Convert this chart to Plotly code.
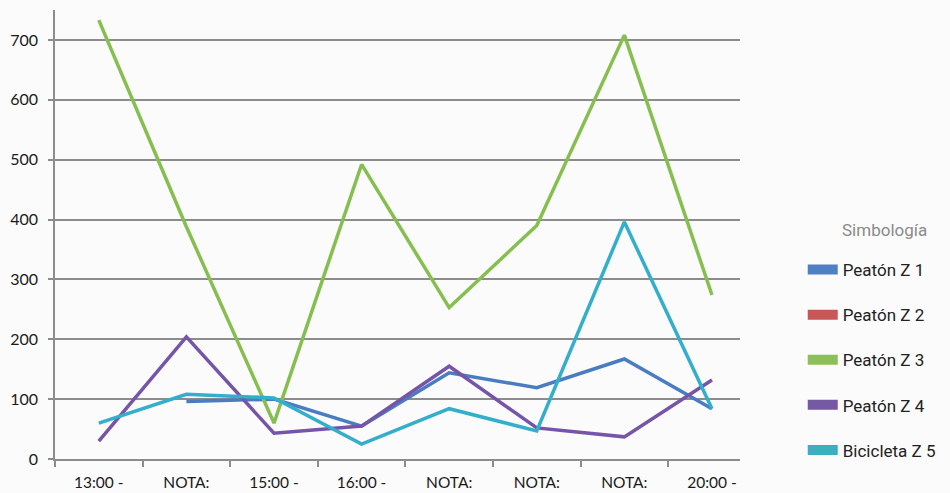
import plotly.graph_objects as go

categories = ["13:00 -", "NOTA:", "15:00 -", "16:00 -", "NOTA:", "NOTA:", "NOTA:", "20:00 -"]
peaton_z1 = [None, 96, 100, 55, 144, 119, 167, 84]
peaton_z2 = [None, None, None, None, None, None, None, None]
peaton_z3 = [733, 388, 60, 492, 253, 390, 708, 274]
peaton_z4 = [30, 204, 43, 55, 155, 52, 37, 132]
bicicleta_z5 = [60, 108, 102, 25, 84, 47, 396, 84]
y_ticks = [0, 100, 200, 300, 400, 500, 600, 700]

names = ["Peatón Z 1", "Peatón Z 2", "Peatón Z 3", "Peatón Z 4", "Bicicleta Z 5"]
series = [peaton_z1, peaton_z2, peaton_z3, peaton_z4, bicicleta_z5]
line_colors = ["#4A7CC2", "#C85858", "#86BE4F", "#7654A8", "#33AECB"]
swatch_colors = ["#5080C4", "#C85858", "#8CBF57", "#7659A5", "#3DADC0"]

x = list(range(len(categories)))

fig = go.Figure()
for name, vals, lc in zip(names, series, line_colors):
    fig.add_trace(go.Scatter(x=x, y=vals, mode="lines", name=name,
                             line=dict(color=lc, width=3.5),
                             showlegend=False, hoverinfo="skip"))
for i, (name, sc) in enumerate(zip(names, swatch_colors)):
    fig.add_trace(go.Scatter(x=[None], y=[None], mode="lines", name=name,
                             line=dict(color=sc, width=15),
                             legendgroup="g%d" % i, showlegend=True))

fig.add_annotation(text="Simbología", xref="paper", yref="paper",
                   x=1.2755, xanchor="right", y=0.51, yanchor="middle",
                   showarrow=False,
                   font=dict(family="Roboto", size=17, color="#8a8a8a"))

fig.update_layout(
    width=950, height=493,
    margin=dict(l=55, r=209, t=10, b=34),
    paper_bgcolor="#fbfbfb", plot_bgcolor="#fbfbfb",
    font=dict(family="Lato, sans-serif", size=15, color="#1a1a1a"),
    showlegend=True,
    legend=dict(
        x=1.09, xanchor="left", y=0.461, yanchor="top",
        font=dict(family="Roboto", size=17, color="#222222"),
        tracegroupgap=20, itemwidth=30, bgcolor="rgba(0,0,0,0)",
    ),
    xaxis=dict(
        range=[-0.5, 7.32], tickmode="array", tickvals=x, ticktext=categories,
        ticks="", showgrid=False, zeroline=False, automargin=False,
        showline=True, linecolor="#8c8c8c", linewidth=1.5,
        minor=dict(tick0=0.5, dtick=1, ticks="outside", ticklen=6,
                   tickcolor="#8c8c8c", tickwidth=1.5, showgrid=False),
        tickfont=dict(size=15.5, color="#1a1a1a"),
        ticklabelstandoff=9,
    ),
    yaxis=dict(
        range=[0, 750], tickmode="array", tickvals=y_ticks, automargin=False,
        ticks="outside", ticklen=5, tickcolor="#8c8c8c", tickwidth=1.5,
        showgrid=True, gridcolor="#8c8c8c", gridwidth=1.5, zeroline=False,
        showline=True, linecolor="#8c8c8c", linewidth=1.5,
        tickfont=dict(size=16, color="#1a1a1a"),
        ticklabelstandoff=7,
    ),
)

fig.write_html("out.html")
